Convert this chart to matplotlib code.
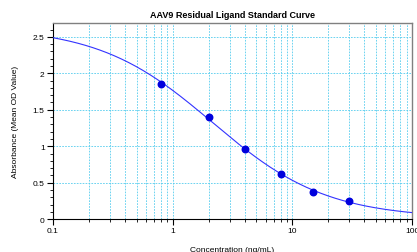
import numpy as np
import matplotlib
matplotlib.use("Agg")
from matplotlib import pyplot as plt
from matplotlib.ticker import LogLocator, MultipleLocator, FixedLocator

plt.rcParams['font.family'] = ['Liberation Sans', 'DejaVu Sans']

# standard points
conc = [0.8, 2.0, 4.0, 8.0, 15.0, 30.0]
absorbance = [1.86, 1.40, 0.96, 0.62, 0.37, 0.25]

# 4PL fit parameters of the standard curve (top, slope, EC50, bottom)
fit_top = 2.6403
fit_slope = 0.9103
fit_ec50 = 2.1513
fit_bottom = 0.0120

x_ticks = [0.1, 1, 10, 100]
x_tick_labels = ['0.1', '1', '10', '100']
y_ticks = [0, 0.5, 1, 1.5, 2, 2.5]
y_tick_labels = ['0', '0.5', '1', '1.5', '2', '2.5']


def four_pl(x, a, b, c, d):
    return d + (a - d) / (1 + (x / c) ** b)


xs = np.logspace(-1, 2, 300)
curve = four_pl(xs, fit_top, fit_slope, fit_ec50, fit_bottom)

fig = plt.figure(figsize=(4.17, 2.53), dpi=100)
ax = fig.add_axes([0.127, 0.130, 0.861, 0.775])

ax.plot(xs, curve, color='#3333ff', lw=0.8, zorder=3)
ax.scatter(conc, absorbance, s=22, color='#0000dd', zorder=4)

ax.set_xscale('log')
ax.set_xlim(0.1, 100)
ax.set_ylim(0, 2.69)

grid_kw = dict(color='#55ccee', lw=0.6, linestyle=(0, (2, 1.5)))
ax.xaxis.set_major_locator(FixedLocator(x_ticks))
ax.xaxis.set_minor_locator(LogLocator(base=10, subs=np.arange(2, 10), numticks=20))
ax.set_xticks(x_ticks)
ax.set_xticklabels(x_tick_labels)
ax.xaxis.set_minor_formatter(plt.NullFormatter())
ax.yaxis.set_major_locator(FixedLocator(y_ticks))
ax.set_yticklabels(y_tick_labels)
ax.yaxis.set_minor_locator(MultipleLocator(0.1))
ax.grid(True, which='major', axis='both', **grid_kw)
ax.grid(True, which='minor', axis='x', **grid_kw)
ax.set_axisbelow(True)

ax.tick_params(axis='both', which='major', direction='out', length=4, width=0.8,
               labelsize=6, color='black', pad=2)
ax.tick_params(axis='both', which='minor', direction='out', length=2, width=0.6,
               color='black')
for side in ['top', 'right']:
    ax.spines[side].set_color('#808080')
    ax.spines[side].set_linewidth(1.0)
for side in ['left', 'bottom']:
    ax.spines[side].set_color('black')
    ax.spines[side].set_linewidth(0.8)

ax.set_title('AAV9 Residual Ligand Standard Curve', fontsize=6.5, fontweight='bold', pad=4)
ax.set_xlabel('Concentration (ng/mL)', fontsize=6, labelpad=8)
ax.set_ylabel('Absorbance (Mean OD Value)', fontsize=6, labelpad=10)

fig.savefig('out.png', dpi=100)
